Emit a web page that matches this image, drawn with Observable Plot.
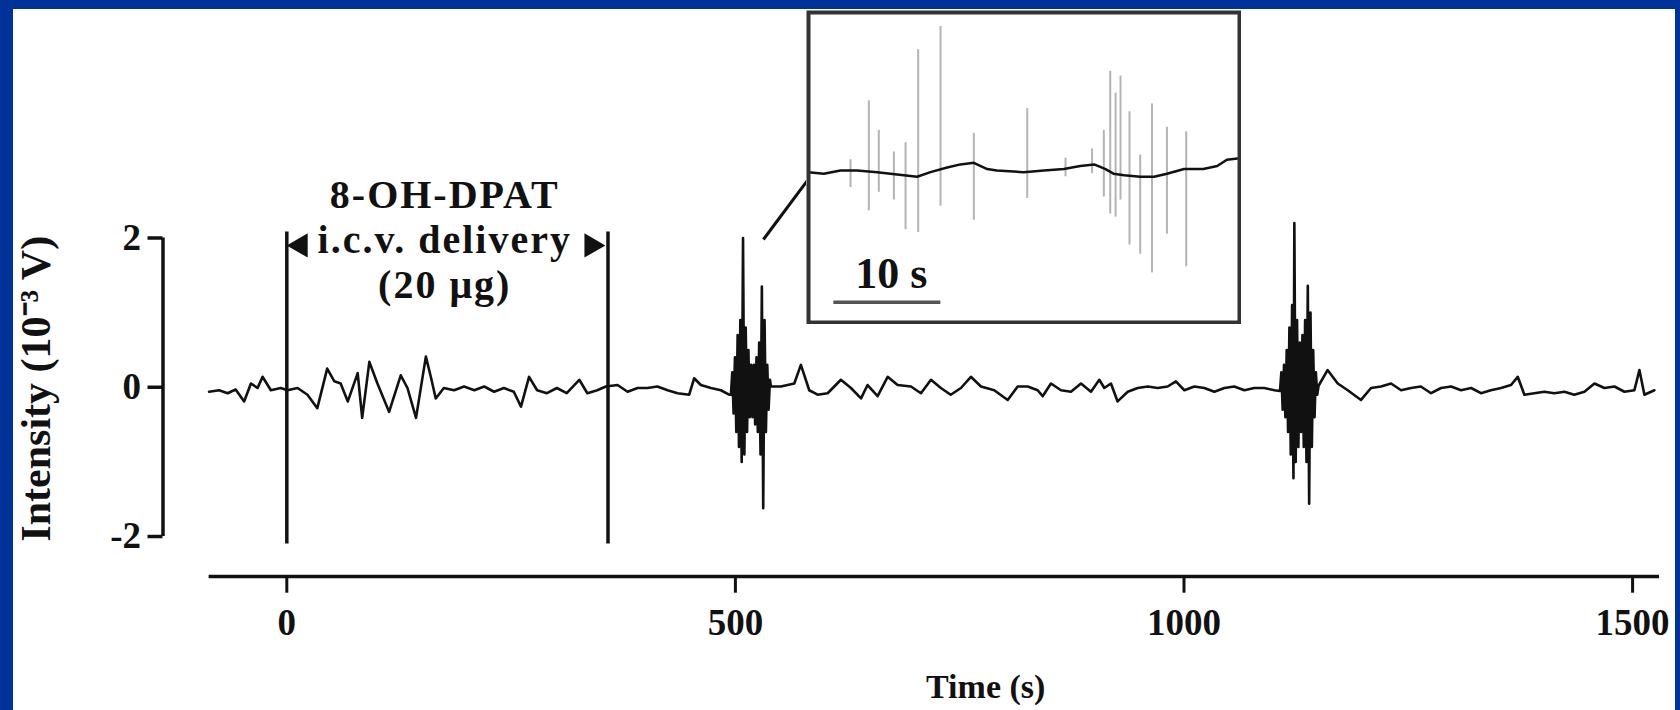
<!DOCTYPE html>
<html><head><meta charset="utf-8">
<script src="https://cdn.jsdelivr.net/npm/d3@7"></script>
<script src="https://cdn.jsdelivr.net/npm/@observablehq/plot@0.6"></script>
<style>
html,body{margin:0;padding:0;background:#003399;width:1680px;height:710px;overflow:hidden;}
#wrap{position:absolute;left:13px;top:9px;width:1662px;height:701px;background:#fff;}
#inset{position:absolute;left:793px;top:1px;}
svg{display:block;}
</style></head><body>
<div id="wrap"><div id="main"></div><div id="inset"></div></div>
<script>
// ---- Main trace: time (s) and intensity (10^-3 V) ----
const traceTime = [
  -86.6,-75.5,-66,-57,-47.6,-40,-32.6,-27,-17.8,-6.7,0.7,12,23,34,45,53,60,68,79,84,92,101,114,127,134.5,144,155,160.5,166,175,186.5,197.6,209,220,231,242,253,261,270,279,290,301,312,326,335,346,355.6,
  368.6,379.8,391,402,413,424.4,435.5,448.5,454,461.5,472.7,483.8,493,
  495,496.5,498,499.5,501,502.5,504,505.5,507,508.5,510,511.5,513,514.5,516,517.5,519,520.5,522,523.5,525,526.5,528,529.5,531,532.5,534,535.5,537,538.5,
  539.6,550.7,565.6,573,582.3,591.6,602.8,617.6,628.8,640,647.3,658.5,669.7,680.8,695.7,706.8,718,729,740,751.4,762.5,773.7,788.5,803.5,814.6,
  825.8,836.9,842.5,851.7,862.9,874,885.2,896.3,905.6,911.2,918.6,926,937.3,948.4,959.6,970.7,981.8,991,1000.4,1011.5,1022.6,1033.8,1045,1056,1067.3,1078.4,1089.6,1100.7,
  1107,1108.5,1110,1111.5,1113,1114.5,1116,1117.5,1119,1120.5,1122,1123,1124.5,1126,1127.5,1129,1130.5,1132,1133.5,1135,1136.5,1138,1139.5,1141,1142.5,1144,1145.5,1147,1148.5,1150,
  1160,1171.4,1182.5,1197.3,1208.5,1219.6,1230.8,1242,1253,1264,
  1275.4,1286.5,1297.7,1308.8,1320,1331,1342,1353.4,1364.5,1372,1379.4,1390.5,1401.7,1412.8,1424,1435,1446.3,1457.5,1468.6,1479.8,1490.9,1502,1507.6,1513.2,1524.3
];
const traceValue = [
  -0.06,-0.04,-0.08,-0.03,-0.19,0.05,-0.01,0.14,-0.04,-0.01,-0.04,-0.01,-0.10,-0.28,0.25,0.08,0.05,-0.19,0.19,-0.41,0.34,0.05,-0.33,0.16,-0.01,-0.41,0.41,0.14,-0.15,-0.01,-0.04,0.01,-0.04,0.01,-0.06,-0.01,-0.06,-0.26,0.14,-0.04,-0.08,-0.01,-0.08,0.10,-0.08,-0.04,0.01,
  0.03,-0.06,-0.01,-0.01,0.01,-0.04,-0.08,-0.10,0.12,0.03,-0.01,-0.04,-0.10,
  -0.1,0.2,-0.35,0.4,-0.6,0.7,-0.8,0.9,-1.0,2.0,-0.9,0.8,-0.6,0.5,-0.4,0.3,-0.4,0.3,-0.5,0.4,-0.6,0.6,-0.9,1.35,-1.62,0.9,-0.6,0.3,-0.3,0.1,
  0.01,0.01,0.05,0.30,-0.04,-0.10,-0.08,0.10,-0.01,-0.15,0.03,-0.12,0.14,0.03,0.01,-0.08,0.10,-0.01,-0.10,-0.01,0.14,0.01,-0.04,-0.17,0.01,
  0.01,-0.04,-0.12,0.05,-0.04,-0.06,0.05,-0.06,0.10,-0.01,0.05,-0.19,-0.06,-0.01,0.01,-0.01,0.01,0.08,-0.04,0.01,-0.01,-0.06,-0.01,0.01,-0.04,-0.01,-0.01,-0.04,
  -0.05,0.2,-0.3,0.3,-0.4,0.5,-0.6,0.8,-0.9,1.1,-1.22,2.2,-1.0,0.9,-0.8,0.6,-0.6,0.7,-0.8,0.9,-1.0,1.36,-1.56,1.0,-0.8,0.5,-0.4,0.2,-0.1,0.02,
  0.23,0.05,-0.04,-0.17,-0.01,0.01,0.05,-0.04,-0.01,0.01,
  -0.08,-0.01,0.01,-0.04,-0.01,-0.08,-0.04,-0.01,0.03,0.14,-0.10,-0.08,-0.06,-0.08,-0.06,-0.10,-0.06,0.05,-0.01,0.01,-0.06,-0.04,0.23,-0.10,-0.04
];
// injection markers (s)
const markerTimes = [0, 358];
// axis ticks
const xTicks = [0, 500, 1000, 1500];
const yTicks = [-2, 0, 2];
// texts
const xLabel = "Time (s)";
const yLabel = "Intensity (10\u207B\u00B3 V)";
const annotationLines = ["8-OH-DPAT", "i.c.v. delivery", "(20 \u03BCg)"];

// ---- Inset (expanded view) ----
const insetTime = [0,1.43,2.99,4.55,6.42,7.66,8.91,10.15,11.4,12.96,14.2,15.45,16.7,17.6,20.1,22,23.86,25.4,26.7,27.76,28.5,29.5,31,32.3,33.5,35.1,36.9,38.2,39.1,40.28];
const insetValue = [-0.03,-0.04,-0.02,-0.02,-0.03,-0.04,-0.05,-0.06,-0.03,0.00,0.02,0.03,-0.01,-0.02,-0.03,-0.02,-0.01,0.01,0.02,-0.01,-0.04,-0.05,-0.06,-0.06,-0.04,-0.01,-0.01,0.01,0.05,0.06];
const spikeTime = [3.93,5.64,6.57,7.98,9.07,10.25,12.34,15.45,20.44,24.02,26.5,27.6,28.2,28.7,29.16,30.0,31.0,32.1,33.5,35.3];
const spikeHigh = [0.05,0.43,0.24,0.10,0.16,0.76,0.91,0.22,0.38,0.06,0.12,0.24,0.62,0.48,0.59,0.36,0.08,0.41,0.26,0.23];
const spikeLow  = [-0.13,-0.28,-0.16,-0.21,-0.40,-0.42,-0.25,-0.34,-0.20,-0.06,-0.04,-0.19,-0.30,-0.32,-0.21,-0.50,-0.56,-0.68,-0.43,-0.64];
const scaleBarSeconds = 10;
const scaleLabel = "10 s";

const trace = traceTime.map((t, i) => ({t, v: traceValue[i]}));
const insetTrace = insetTime.map((t, i) => ({t, v: insetValue[i]}));
const spikes = spikeTime.map((t, i) => ({t, hi: spikeHigh[i], lo: spikeLow[i]}));

const font = "'Liberation Serif', 'Times New Roman', serif";
const ink = "#111";

const main = Plot.plot({
  width: 1662, height: 701,
  marginLeft: 149.5, marginRight: 16, marginTop: 0, marginBottom: 133.3,
  x: {domain: [-138, 1530], range: [149.5, 1646]},
  y: {domain: [-2, 2], range: [527, 228.5]},
  style: {fontFamily: font, fontWeight: "bold", fontSize: "37px", color: ink, background: "white", overflow: "visible"},
  marks: [
    Plot.ruleX([-138], {y1: yTicks[0], y2: yTicks[yTicks.length - 1], stroke: ink, strokeWidth: 3.5}),
    Plot.axisY({ticks: yTicks, tickSize: 15, tickPadding: 7, tickFormat: d => String(d), label: null, stroke: ink, strokeWidth: 3.5, fontSize: 37}),
    Plot.ruleY([-2.535], {x1: -86.6, x2: 1530, stroke: ink, strokeWidth: 3.5}),
    Plot.axisX({ticks: xTicks, tickSize: 16, tickPadding: 16, tickFormat: d => String(d), label: null, stroke: ink, strokeWidth: 3, fontSize: 37}),
    Plot.ruleX(markerTimes, {y1: -2.1, y2: 2.08, stroke: ink, strokeWidth: 3.5}),
    Plot.line(trace, {x: "t", y: "v", stroke: ink, strokeWidth: 2.6, curve: "linear"}),
    Plot.link([0], {x1: 531.2, y1: 1.98, x2: 581.4, y2: 2.79, stroke: ink, strokeWidth: 3}),
    Plot.dot([0], {x: 15.5, y: 1.9, symbol: "triangle", rotate: -90, r: 9, fill: ink, stroke: null}),
    Plot.dot([0], {x: 339.5, y: 1.9, symbol: "triangle", rotate: 90, r: 9, fill: ink, stroke: null}),
    Plot.text([annotationLines.join("\n")], {x: 176, y: 1.99, text: d => d, lineHeight: 1.115, lineAnchor: "middle", fill: ink, fontSize: 40, fontWeight: "bold"}),
    Plot.text([xLabel], {x: 779, y: -4.02, text: d => d, fill: ink, fontSize: 34, fontWeight: "bold"}),
    Plot.text([yLabel], {x: -279.4, y: -0.02, text: d => d, rotate: -90, fill: ink, fontSize: 42, fontWeight: "bold"})
  ]
});
// the reference lettering of the annotation is a little wider than Times
main.querySelectorAll("text").forEach(el => {
  if (el.textContent.includes("8-OH-DPAT")) el.setAttribute("letter-spacing", "2");
});
document.getElementById("main").appendChild(main);

const inset = Plot.plot({
  width: 435, height: 314, margin: 2,
  x: {domain: [0, 40.28], axis: null},
  y: {domain: [-1, 1], axis: null},
  style: {fontFamily: font, fontWeight: "bold", fontSize: "44px", color: ink, background: "white"},
  marks: [
    Plot.ruleX(spikes, {x: "t", y1: "lo", y2: "hi", stroke: "#b4b4b4", strokeWidth: 2}),
    Plot.line(insetTrace, {x: "t", y: "v", stroke: ink, strokeWidth: 2.5}),
    Plot.ruleY([-0.87], {x1: 2.37, x2: 2.37 + scaleBarSeconds, stroke: "#555", strokeWidth: 3.5}),
    Plot.text([scaleLabel], {x: 7.75, y: -0.684, text: d => d, fill: ink, fontSize: 44, fontWeight: "bold"}),
    Plot.frame({stroke: "#333", strokeWidth: 4})
  ]
});
document.getElementById("inset").appendChild(inset);
</script>
</body></html>
